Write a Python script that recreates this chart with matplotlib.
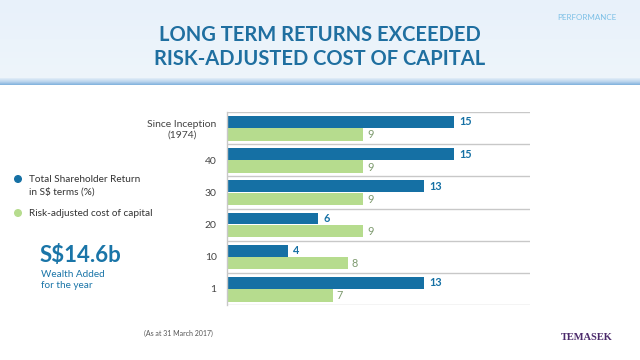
import matplotlib
matplotlib.use("Agg")
import matplotlib.pyplot as plt
import numpy as np
from matplotlib.patches import Circle
from matplotlib.colors import LinearSegmentedColormap

categories = ["Since Inception\n(1974)", "40", "30", "20", "10", "1"]
tsr = [15, 15, 13, 6, 4, 13]
cost_of_capital = [9, 9, 9, 9, 8, 7]
legend_labels = ["Total Shareholder Return\nin S$ terms (%)", "Risk-adjusted cost of capital"]
title = "LONG TERM RETURNS EXCEEDED\nRISK-ADJUSTED COST OF CAPITAL"

BLUE = "#1570a4"
GREEN = "#b6dc8e"
GREY_GREEN = "#7d9a6e"
TEXT = "#444444"
FONT = "Lato"

W, H = 640, 360
fig = plt.figure(figsize=(6.4, 3.6), dpi=100)
fig.patch.set_facecolor("white")

# background / decoration axes in pixel coordinates
bg = fig.add_axes([0, 0, 1, 1])
bg.axis("off")
grad = np.linspace(0, 1, 100).reshape(-1, 1)
cm = LinearSegmentedColormap.from_list("hdr", ["#e8f1fa", "#eef5fb"])
bg.imshow(grad, extent=[0, W, 78, 0], cmap=cm, aspect="auto", zorder=0)
cm2 = LinearSegmentedColormap.from_list("ln", ["#e3eef8", "#bcd6ee", "#7eb0dc"])
bg.imshow(grad, extent=[0, W, 85, 78], cmap=cm2, aspect="auto", zorder=0)
bg.set_xlim(0, W)
bg.set_ylim(H, 0)

bg.text(320, 47, title, ha="center", va="center", fontsize=14.5, fontweight="bold",
        color="#1f6fa0", family=FONT, linespacing=1.3)
bg.text(616, 17, "PERFORMANCE", ha="right", va="center", fontsize=5.8,
        color="#7cc0e6", family=FONT)

# legend
bg.add_patch(Circle((18, 179), 3.3, color=BLUE, zorder=3))
bg.add_patch(Circle((18, 213), 3.3, color=GREEN, zorder=3))
bg.text(29, 186, legend_labels[0], ha="left", va="center", fontsize=7.2,
        color="#333333", family=FONT, linespacing=1.35)
bg.text(29, 213, legend_labels[1], ha="left", va="center", fontsize=7.2,
        color="#333333", family=FONT)

bg.text(40, 255, "S$14.6b", ha="left", va="center", fontsize=16, fontweight="bold",
        color="#1a75a8", family=FONT)
bg.text(41, 280, "Wealth Added\nfor the year", ha="left", va="center", fontsize=7.2,
        color="#1a75a8", family=FONT, linespacing=1.3)

bg.text(144, 333, "(As at 31 March 2017)", ha="left", va="center", fontsize=5,
        color="#555555", family=FONT)
bg.text(587, 337, "TEMASEK", ha="center", va="center", fontsize=7.5, fontweight="bold",
        color="#4b2a6b", family="Liberation Serif")

# main chart
ax = fig.add_axes([227 / W, 1 - 305 / H, 303 / W, 193 / H])
n = len(categories)
y = np.arange(n)
ax.barh(y - 0.19, tsr, height=0.37, color=BLUE, zorder=2)
ax.barh(y + 0.20, cost_of_capital, height=0.39, color=GREEN, zorder=2)
ax.set_xlim(0, 20)
ax.set_ylim(n - 0.5, -0.5)

for i in range(n):
    ax.text(tsr[i] + 0.35, y[i] - 0.19, str(tsr[i]), va="center", ha="left",
            fontsize=7.8, fontweight="bold", color=BLUE, family=FONT)
    ax.text(cost_of_capital[i] + 0.25, y[i] + 0.21, str(cost_of_capital[i]), va="center",
            ha="left", fontsize=7.8, color=GREY_GREEN, family=FONT)

for b in np.arange(n + 1) - 0.5:
    ax.axhline(b, color="#c8c8c8", lw=1.0, zorder=1)

ax.set_yticks(y)
ax.set_yticklabels(categories, fontsize=7.5, color=TEXT, family=FONT,
                   multialignment="center")
ax.tick_params(axis="y", length=0, pad=7.5)
ax.set_xticks([])
for s in ["top", "right", "bottom"]:
    ax.spines[s].set_visible(False)
ax.spines["left"].set_color("#c8c8c8")
ax.spines["left"].set_linewidth(1.0)
ax.set_facecolor("none")

fig.savefig("out.png", dpi=100, facecolor=fig.get_facecolor())
